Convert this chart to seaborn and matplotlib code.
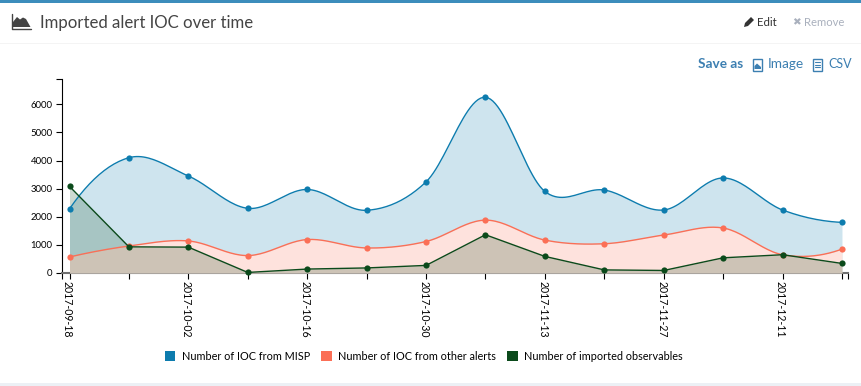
# Imported alert IOC over time - weekly counts per source
import numpy as np
import pandas as pd
import seaborn as sns
import matplotlib
matplotlib.use("Agg")
import matplotlib.pyplot as plt
import matplotlib.dates as mdates
from matplotlib.patches import Patch, Rectangle, Polygon
from matplotlib.transforms import ScaledTranslation

weeks = ['2017-09-18', '2017-09-25', '2017-10-02', '2017-10-09', '2017-10-16',
         '2017-10-23', '2017-10-30', '2017-11-06', '2017-11-13', '2017-11-20',
         '2017-11-27', '2017-12-04', '2017-12-11', '2017-12-18']
ioc_misp = [2280, 4100, 3450, 2300, 2970, 2230, 3240, 6250, 2900, 2950, 2240, 3380, 2240, 1800]
ioc_other = [570, 960, 1140, 620, 1190, 890, 1120, 1880, 1170, 1040, 1350, 1600, 650, 850]
ioc_imported = [3080, 930, 920, 20, 140, 180, 270, 1360, 590, 110, 90, 540, 650, 340]
y_ticks = [0, 1000, 2000, 3000, 4000, 5000, 6000]
series_names = ['Number of IOC from MISP', 'Number of IOC from other alerts', 'Number of imported observables']
series_colors = ['#0d7cae', '#fb6f56', '#0b4a1b']
series_smooth = [True, True, False]

W, H = 861, 386
FONT = 'Lato'


def spline_curve(x, y, per_seg=24):
    # cardinal spline through the weeks, only used to draw between the points
    x = np.asarray(x, dtype=float)
    y = np.asarray(y, dtype=float)
    h = np.diff(x)
    m = np.zeros(len(x))
    m[1:-1] = (y[2:] - y[:-2]) / (x[2:] - x[:-2])
    m[0] = 2 * (y[1] - y[0]) / h[0] - m[1]
    m[-1] = 2 * (y[-1] - y[-2]) / h[-1] - m[-2]
    xs, ys = [], []
    for i in range(len(h)):
        t = np.linspace(0, 1, per_seg, endpoint=i == len(h) - 1)
        xs.append(x[i] + t * h[i])
        ys.append((2*t**3 - 3*t**2 + 1) * y[i] + (t**3 - 2*t**2 + t) * h[i] * m[i]
                  + (-2*t**3 + 3*t**2) * y[i + 1] + (t**3 - t**2) * h[i] * m[i + 1])
    return np.concatenate(xs), np.concatenate(ys)


sns.set_theme(style="white")
plt.rcParams['font.family'] = [FONT, 'DejaVu Sans']

fig = plt.figure(figsize=(W / 100, H / 100), dpi=100, facecolor='#ecf0f5')

# page furniture, in pixel coordinates
bg = fig.add_axes([0, 0, 1, 1], zorder=0)
bg.set_xlim(0, W)
bg.set_ylim(H, 0)
bg.axis('off')
bg.add_patch(Rectangle((0, 0), W, 383, fc='white', ec='none'))
bg.add_patch(Rectangle((0, 0), W, 3, fc='#3c8dbc', ec='none'))
bg.add_patch(Rectangle((0, 43), W, 1, fc='#f4f4f4', ec='none'))

bg.plot([11.5, 11.5, 31], [14, 28.5, 28.5], color='#444444', lw=1)
bg.add_patch(Polygon([(13, 27), (13, 22), (17, 17), (20, 19.5), (23, 17.5), (26, 19), (30.5, 27)], fc='#444444', ec='none'))
bg.text(40, 23, 'Imported alert IOC over time', fontsize=12.05, color='#444444', va='center', ha='left')

# pencil
bg.add_patch(Polygon([(744, 27), (745, 23), (751, 17), (754, 20), (748, 26)], fc='#333333', ec='none'))
bg.text(757, 22, 'Edit', fontsize=8.2, color='#333333', va='center', ha='left')
bg.text(792, 22, '\u2716', fontsize=7.5, color='#a9b0bd', va='center', ha='left', family='DejaVu Sans')
bg.text(804, 22, 'Remove', fontsize=8.1, color='#a9b0bd', va='center', ha='left')

link = '#3c7fb1'
bg.text(698, 64.5, 'Save as', fontsize=9.8, color=link, va='center', ha='left', fontweight='bold')
bg.add_patch(Rectangle((753, 58.5), 9, 12, fc='white', ec=link, lw=1))
bg.add_patch(Polygon([(754.5, 69), (754.5, 66), (757, 63.5), (761, 67), (761, 69)], fc=link, ec='none'))
bg.text(768, 64.5, 'Image', fontsize=9.8, color=link, va='center', ha='left')
bg.add_patch(Rectangle((813, 58.5), 9, 12, fc='white', ec=link, lw=1))
for yy in [62, 64.5, 67]:
    bg.plot([815, 820], [yy, yy], color=link, lw=0.8)
bg.text(828, 64.5, 'CSV', fontsize=9, color=link, va='center', ha='left')

# chart
ax = fig.add_axes([62 / W, 1 - 273 / H, (848 - 62) / W, (273 - 79) / H], zorder=1)
ax.patch.set_alpha(0)

dates = pd.to_datetime(weeks)
xnum = mdates.date2num(dates)
values = [ioc_misp, ioc_other, ioc_imported]

for i, (vals, col, smooth) in enumerate(zip(values, series_colors, series_smooth)):
    # imported observables are a plain polyline in the original
    cx, cy = spline_curve(xnum, vals) if smooth else (xnum, np.asarray(vals, dtype=float))
    if i == 1:
        # the other-alerts band hides the MISP fill underneath it
        ax.fill_between(cx, 0, cy, color='white', lw=0, zorder=2 + i)
    ax.fill_between(cx, 0, cy, color=col, alpha=0.2, lw=0, zorder=2 + i)
    curve = pd.DataFrame({'x': cx, 'y': cy})
    sns.lineplot(data=curve, x='x', y='y', color=col, lw=1, ax=ax, zorder=6 + i, errorbar=None)
    points = pd.DataFrame({'x': xnum, 'y': vals})
    sns.scatterplot(data=points, x='x', y='y', color=col, s=20, linewidth=0, ax=ax, zorder=6 + i, clip_on=False)

pad = 7.5 / 59.4 * 7
right_pad = 6 / 59.4 * 7
ax.set_xlim(xnum[0] - pad, xnum[-1] + right_pad)
ax.set_ylim(0, (273 - 79) / 28.12 * 1000)
ax.set_xlabel('')
ax.set_ylabel('')

tick_x = [xnum[0] - pad] + list(xnum) + [xnum[-1] + right_pad]
tick_lab = [''] + [w if k % 2 == 0 else '' for k, w in enumerate(weeks)] + ['']
ax.set_xticks(tick_x)
ax.set_xticklabels(tick_lab, rotation=-90, fontsize=7.6, color='black', ha='center', va='top')
ax.set_yticks(y_ticks + [ax.get_ylim()[1]])
ax.set_yticklabels([str(v) for v in y_ticks] + [''], fontsize=6.9, color='black')
ax.tick_params(axis='both', which='major', length=4.3, width=0.8, color='black', bottom=True, left=True)
ax.tick_params(axis='x', pad=1.2)
ax.tick_params(axis='y', pad=2.5)
shift = ScaledTranslation(-1.5 / 72, 0, fig.dpi_scale_trans)
for lab in ax.get_xticklabels():
    lab.set_transform(lab.get_transform() + shift)

sns.despine(ax=ax, top=True, right=True)
ax.spines['left'].set_linewidth(0.8)
ax.spines['left'].set_color('black')
ax.spines['bottom'].set_linewidth(1.5)
ax.spines['bottom'].set_color('#6f6f6f')

handles = [Patch(fc=c, ec='none', label=n) for c, n in zip(series_colors, series_names)]
fig.legend(handles=handles, loc='center left', bbox_to_anchor=(164.5 / W, 1 - 356.5 / H), ncol=3, frameon=False,
           fontsize=7.8, handlelength=1.0, handleheight=1.0, handletextpad=0.6, columnspacing=1.0,
           labelcolor='black', borderpad=0, borderaxespad=0)

plt.savefig('out.png', dpi=100, facecolor=fig.get_facecolor())
